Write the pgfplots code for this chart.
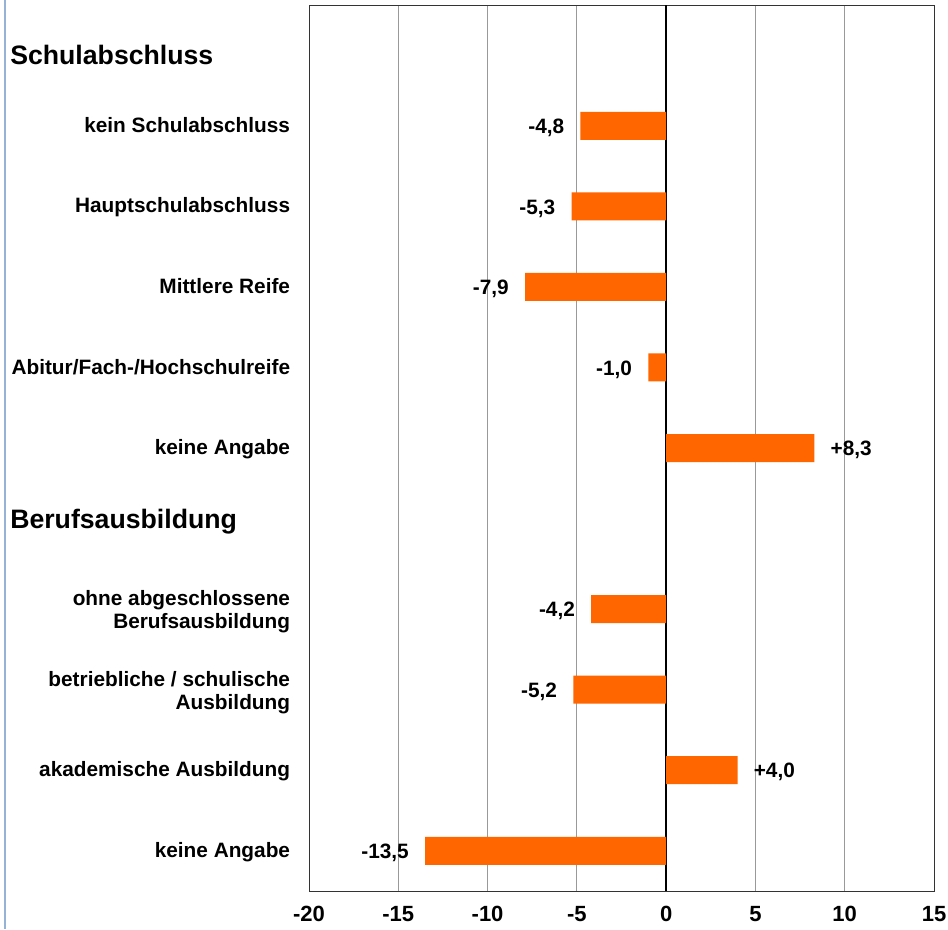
\documentclass[border=0pt]{standalone}
\usepackage{pgfplots}
\usepackage{pgfplotstable}
\pgfplotsset{compat=1.18}
\usepackage{fontspec}
\setmainfont{Liberation Sans}

\definecolor{barorange}{HTML}{FF6600}
\definecolor{sideblue}{HTML}{95B3D7}

% change in percent by school leaving certificate and vocational training
\pgfplotstableread{
y val lab
0 -4.8 {-4,8}
1 -5.3 {-5,3}
2 -7.9 {-7,9}
3 -1.0 {-1,0}
6 -4.2 {-4,2}
7 -5.2 {-5,2}
9 -13.5 {-13,5}
}\decreases
\pgfplotstableread{
y val lab
4 8.3 {+8,3}
8 4.0 {+4,0}
}\increases

\newcommand{\lblfont}{\bfseries\fontsize{15.6}{17.25}\selectfont}
\newcommand{\numfont}{\bfseries\fontsize{16.5}{18}\selectfont}
\newcommand{\headfont}{\bfseries\fontsize{20}{24}\selectfont}

\begin{document}
\begin{tikzpicture}
\useasboundingbox (0,0) rectangle (711pt,696.75pt);
\draw[sideblue, line width=1.5pt] (3.75pt,0) -- (3.75pt,696.75pt);
\begin{axis}[
  at={(231.75pt,693pt)}, anchor=north west,
  width=468.75pt, height=664.5pt, scale only axis,
  xbar, bar width=21pt, bar shift=0pt,
  xmin=-20, xmax=15, ymin=-1.5, ymax=9.5, y dir=reverse,
  xtick={-20,-15,-10,-5,0,5,10,15},
  xticklabels={-20,-15,-10,-5,0,5,10,15},
  ytick={0,1,2,3,4,6,7,8,9},
  yticklabels={kein Schulabschluss, Hauptschulabschluss, Mittlere Reife,
    Abitur/Fach-/Hochschulreife, keine Angabe,
    {ohne abgeschlossene\\Berufsausbildung},
    {betriebliche / schulische\\Ausbildung},
    akademische Ausbildung, keine Angabe},
  typeset ticklabels with strut,
  major tick length=0pt,
  xmajorgrids, grid style={black!40, line width=0.6pt},
  axis line style={black!80, line width=0.75pt},
  yticklabel style={font=\lblfont, align=right, inner sep=0pt, xshift=-14pt, yshift=-1.5pt},
  xticklabel style={font=\numfont, yshift=-7pt},
  extra x ticks={0}, extra x tick labels={},
  extra x tick style={grid style={black, line width=1.5pt}},
  nodes near coords, point meta=explicit symbolic,
]
\addplot[fill=barorange, draw=none,
  every node near coord/.style={font=\lblfont, black, anchor=east,
    inner xsep=12pt, inner ysep=0pt, yshift=-1.5pt},
] table[x=val, y=y, meta=lab]{\decreases};
\addplot[fill=barorange, draw=none,
  every node near coord/.style={font=\lblfont, black, anchor=west,
    inner xsep=12pt, inner ysep=0pt, yshift=-1.5pt},
] table[x=val, y=y, meta=lab]{\increases};
\end{axis}
\node[anchor=west, font=\headfont, inner sep=0pt] at (7.5pt,655.5pt) {Schulabschluss};
\node[anchor=west, font=\headfont, inner sep=0pt] at (7.5pt,305.25pt) {Berufsausbildung};
\end{tikzpicture}
\end{document}
